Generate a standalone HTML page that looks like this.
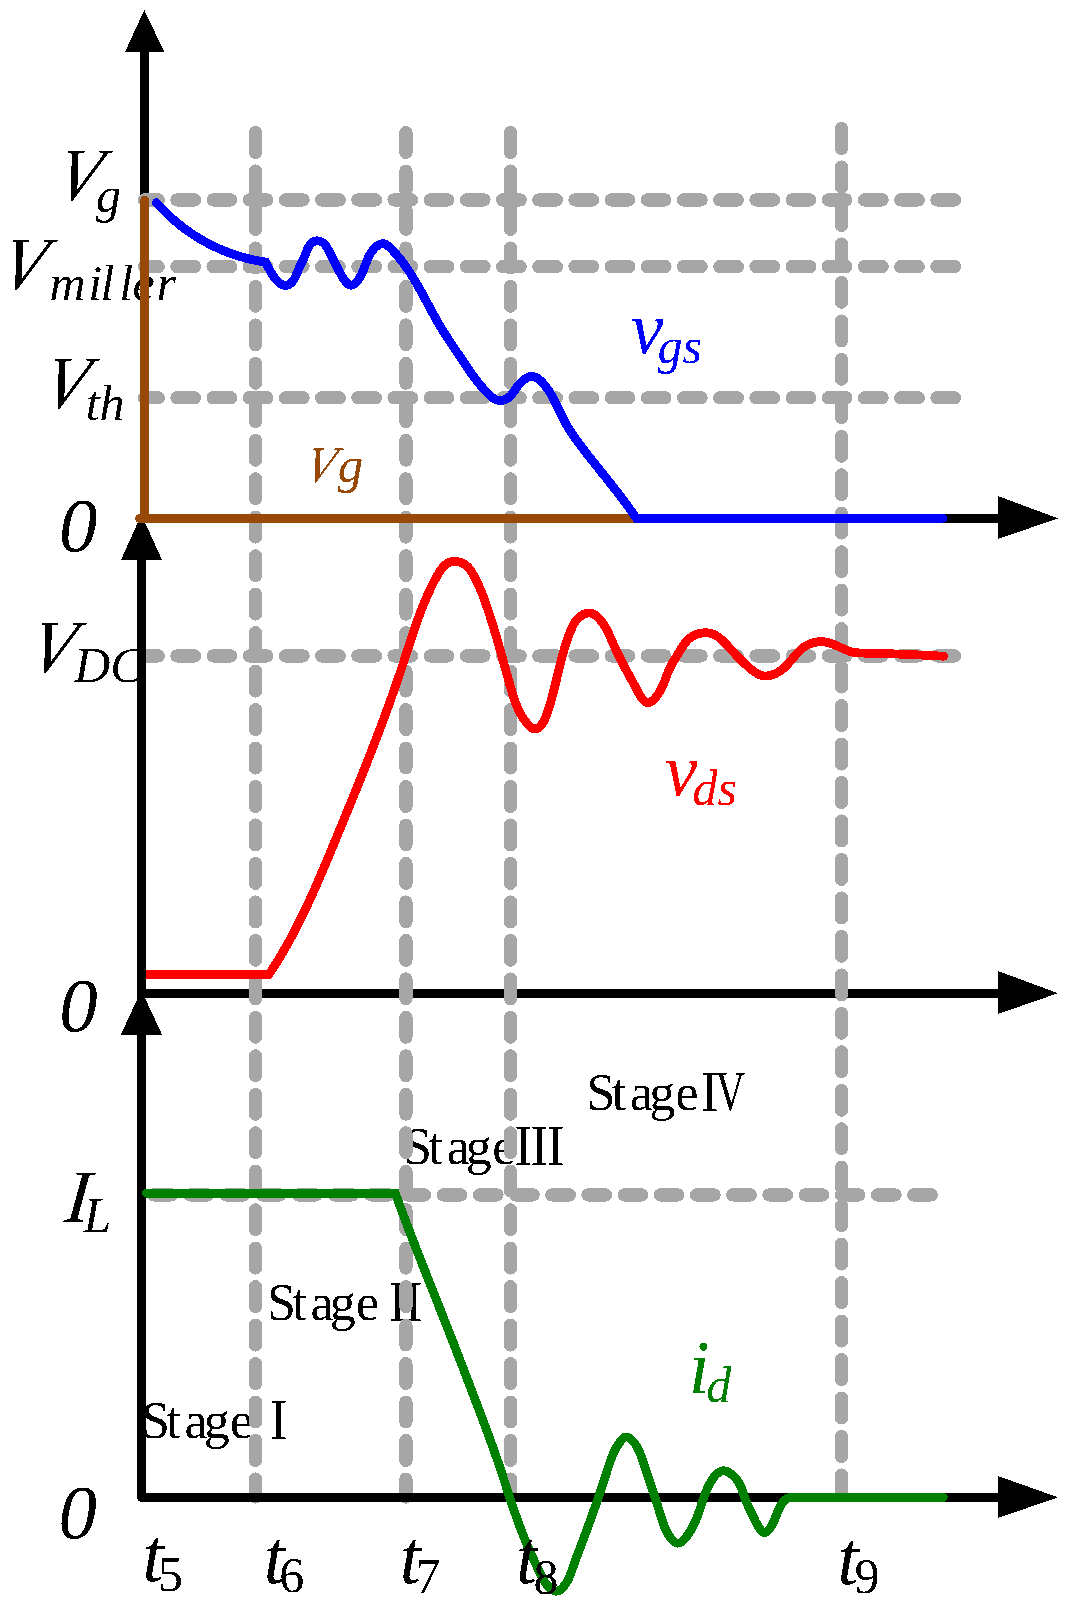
<!DOCTYPE html>
<html><head><meta charset="utf-8"><style>
html,body{margin:0;padding:0;background:#fff;}
svg{display:block;}
text{font-family:"Liberation Serif", serif;}
</style></head><body>
<svg width="1083" height="1612" viewBox="0 0 1083 1612" shape-rendering="crispEdges">
<defs><filter id="bin" x="0" y="0" width="1083" height="1612" filterUnits="userSpaceOnUse" color-interpolation-filters="sRGB"><feComponentTransfer><feFuncA type="discrete" tableValues="0 1"/></feComponentTransfer></filter></defs>
<rect width="1083" height="1612" fill="#fff"/>
<g id="tx_under" filter="url(#bin)">
<text x="0" y="0" font-size="75.5" fill="#000" style="font-style:italic" transform="translate(52.9,199.8) skewX(-13.2) scale(0.916,1)">V</text>
<text x="96" y="211.5" font-size="50" fill="#000" style="font-style:italic">g</text>
<text x="0" y="0" font-size="75.5" fill="#000" style="font-style:italic" transform="translate(-2.5,289.4) skewX(-13.2) scale(0.916,1)">V</text>
<text x="49.4 88.17 100.62 119.37 132.6 156.4" y="299.7" font-size="50" fill="#000" style="font-style:italic">miller</text>
<text x="0" y="0" font-size="75.5" fill="#000" style="font-style:italic" transform="translate(40.1,407.5) skewX(-13.2) scale(0.916,1)">V</text>
<text x="85.7" y="419.6" font-size="50" fill="#000" style="font-style:italic">th</text>
<text x="59.0" y="551.2" font-size="77" fill="#000" style="font-style:italic">0</text>
<text x="0" y="0" font-size="75.5" fill="#000" style="font-style:italic" transform="translate(26.5,671.8) skewX(-13.2) scale(0.916,1)">V</text>
<text x="74.2" y="682.1" font-size="50" fill="#000" style="font-style:italic">DC</text>
<text x="59.2" y="1031.0" font-size="77" fill="#000" style="font-style:italic">0</text>
<text x="0" y="0" font-size="75.5" fill="#000" style="font-style:italic" transform="translate(63.4,1221.6) skewX(-5.5)">I</text>
<text x="83.4" y="1231.8" font-size="50" fill="#000" style="font-style:italic">L</text>
<text x="58.6" y="1537.5" font-size="77" fill="#000" style="font-style:italic">0</text>
<text x="586.46 611.72 630.1 649.23 675.54" y="1110.2" font-size="52" fill="#000">Stage</text>
<text x="403.06 428.32 446.7 465.83 492.14" y="1164.2" font-size="52" fill="#000">Stage</text>
<text x="266.96 292.22 310.6 329.73 356.04" y="1320.2" font-size="52" fill="#000">Stage</text>
<text x="140.96 166.22 184.6 203.73 230.04" y="1438.2" font-size="52" fill="#000">Stage</text>
<text x="0" y="0" font-size="57.7" fill="#000" transform="translate(700.9,1111) scale(0.92,1)">I</text>
<text x="0" y="0" font-size="57.7" fill="#000" transform="translate(715.6,1111) scale(0.71,1)">V</text>
<text x="0" y="0" font-size="57.7" fill="#000" letter-spacing="-1.74" transform="translate(514.5,1165) scale(0.92,1)">III</text>
<text x="0" y="0" font-size="57.7" fill="#000" letter-spacing="-1.74" transform="translate(388.7,1321) scale(0.92,1)">II</text>
<text x="0" y="0" font-size="57.7" fill="#000" transform="translate(269.8,1439) scale(0.92,1)">I</text>
</g>
<g id="gfx1">
<line x1="137" y1="993.4" x2="1000" y2="993.4" stroke="#000" stroke-width="9"/>
<line x1="144.5" y1="50" x2="144.5" y2="523" stroke="#000" stroke-width="9"/>
<g stroke="#a6a6a6" stroke-width="13.3" stroke-linecap="round" fill="none">
<line x1="144.5" y1="199.9" x2="956" y2="199.9" stroke-dasharray="17.5 18.69" stroke-dashoffset="3.74"/>
<line x1="144.5" y1="266.6" x2="956" y2="266.6" stroke-dasharray="17.5 18.69" stroke-dashoffset="3.74"/>
<line x1="144.5" y1="397.8" x2="956" y2="397.8" stroke-dasharray="17.5 18.69" stroke-dashoffset="3.74"/>
<line x1="144.5" y1="655.9" x2="956" y2="655.9" stroke-dasharray="17.5 18.69" stroke-dashoffset="3.74"/>
<line x1="144.5" y1="1194.9" x2="940" y2="1194.9" stroke-dasharray="17.5 18.69" stroke-dashoffset="26.94"/>
<line x1="255.5" y1="132.65" x2="255.5" y2="1497" stroke-dasharray="19.7 18.77" stroke-dashoffset="0.00"/>
<line x1="405.9" y1="132.65" x2="405.9" y2="1497" stroke-dasharray="19.7 18.77" stroke-dashoffset="0.00"/>
<line x1="510.5" y1="132.65" x2="510.5" y2="1490" stroke-dasharray="19.7 18.77" stroke-dashoffset="0.00"/>
<line x1="841.5" y1="128.65" x2="841.5" y2="1493" stroke-dasharray="19.7 18.77" stroke-dashoffset="0.00"/>
</g>
<path d="M145,974.6 L268.80,974.50 L269.36,973.67 L269.92,972.83 L270.48,971.99 L271.03,971.15 L271.59,970.32 L272.14,969.48 L272.69,968.63 L273.23,967.79 L273.78,966.95 L274.32,966.10 L274.86,965.26 L275.39,964.41 L275.93,963.56 L276.46,962.71 L276.99,961.86 L277.52,961.01 L278.05,960.16 L278.57,959.30 L279.09,958.45 L279.61,957.59 L280.13,956.74 L280.64,955.88 L281.16,955.02 L281.67,954.16 L282.18,953.30 L282.69,952.44 L283.19,951.58 L283.69,950.71 L284.20,949.85 L284.70,948.99 L285.19,948.12 L285.69,947.25 L286.18,946.38 L286.67,945.51 L287.16,944.64 L287.65,943.77 L288.14,942.90 L288.62,942.03 L289.11,941.15 L289.59,940.28 L290.07,939.41 L290.54,938.53 L291.02,937.65 L291.49,936.77 L291.97,935.89 L292.44,935.02 L292.91,934.13 L293.37,933.25 L293.84,932.37 L294.30,931.49 L294.77,930.60 L295.23,929.72 L295.69,928.84 L296.14,927.95 L296.60,927.06 L297.05,926.17 L297.51,925.29 L297.96,924.40 L298.41,923.51 L298.86,922.62 L299.31,921.73 L299.75,920.83 L300.20,919.94 L300.64,919.05 L301.08,918.15 L301.52,917.26 L301.96,916.36 L302.40,915.47 L302.83,914.57 L303.27,913.67 L303.70,912.78 L304.14,911.88 L304.57,910.98 L305.00,910.08 L305.43,909.18 L305.85,908.28 L306.28,907.38 L306.70,906.47 L307.13,905.57 L307.55,904.67 L307.97,903.76 L308.39,902.86 L308.81,901.95 L309.23,901.05 L309.65,900.14 L310.07,899.24 L310.48,898.33 L310.89,897.42 L311.31,896.51 L311.72,895.60 L312.13,894.70 L312.54,893.79 L312.95,892.88 L313.36,891.97 L313.77,891.05 L314.17,890.14 L314.58,889.23 L314.99,888.32 L315.39,887.41 L315.79,886.49 L316.20,885.58 L316.60,884.66 L317.00,883.75 L317.40,882.84 L317.80,881.92 L318.20,881.01 L318.59,880.09 L318.99,879.17 L319.39,878.26 L319.79,877.34 L320.18,876.42 L320.58,875.50 L320.97,874.59 L321.36,873.67 L321.76,872.75 L322.15,871.83 L322.54,870.91 L322.93,869.99 L323.32,869.07 L323.71,868.15 L324.10,867.23 L324.49,866.31 L324.88,865.39 L325.27,864.47 L325.66,863.55 L326.04,862.63 L326.43,861.71 L326.82,860.79 L327.21,859.86 L327.59,858.94 L327.98,858.02 L328.36,857.10 L328.75,856.17 L329.13,855.25 L329.52,854.33 L329.90,853.40 L330.29,852.48 L330.67,851.56 L331.05,850.63 L331.44,849.71 L331.82,848.79 L332.20,847.86 L332.59,846.94 L332.97,846.02 L333.35,845.09 L333.74,844.17 L334.12,843.24 L334.50,842.32 L334.89,841.40 L335.27,840.47 L335.65,839.55 L336.03,838.62 L336.42,837.70 L336.80,836.77 L337.18,835.85 L337.56,834.92 L337.95,834.00 L338.33,833.07 L338.71,832.15 L339.09,831.23 L339.47,830.30 L339.86,829.38 L340.24,828.45 L340.62,827.53 L341.00,826.60 L341.38,825.68 L341.76,824.75 L342.15,823.83 L342.53,822.90 L342.91,821.98 L343.29,821.05 L343.67,820.12 L344.05,819.20 L344.43,818.27 L344.81,817.35 L345.19,816.42 L345.57,815.50 L345.95,814.57 L346.33,813.65 L346.71,812.72 L347.09,811.79 L347.47,810.87 L347.85,809.94 L348.23,809.02 L348.61,808.09 L348.99,807.16 L349.37,806.24 L349.75,805.31 L350.13,804.38 L350.51,803.46 L350.88,802.53 L351.26,801.60 L351.64,800.68 L352.02,799.75 L352.40,798.82 L352.77,797.90 L353.15,796.97 L353.53,796.04 L353.90,795.11 L354.28,794.19 L354.66,793.26 L355.03,792.33 L355.41,791.41 L355.78,790.48 L356.16,789.55 L356.53,788.62 L356.91,787.69 L357.28,786.77 L357.66,785.84 L358.03,784.91 L358.41,783.98 L358.78,783.05 L359.15,782.12 L359.53,781.20 L359.90,780.27 L360.27,779.34 L360.65,778.41 L361.02,777.48 L361.39,776.55 L361.76,775.62 L362.13,774.69 L362.50,773.76 L362.87,772.83 L363.24,771.91 L363.61,770.98 L363.98,770.05 L364.35,769.12 L364.72,768.19 L365.09,767.26 L365.46,766.33 L365.83,765.40 L366.20,764.47 L366.56,763.53 L366.93,762.60 L367.30,761.67 L367.66,760.74 L368.03,759.81 L368.40,758.88 L368.76,757.95 L369.13,757.02 L369.49,756.09 L369.86,755.16 L370.22,754.22 L370.58,753.29 L370.95,752.36 L371.31,751.43 L371.67,750.50 L372.04,749.56 L372.40,748.63 L372.76,747.70 L373.12,746.77 L373.48,745.83 L373.84,744.90 L374.20,743.97 L374.56,743.04 L374.92,742.10 L375.28,741.17 L375.64,740.24 L376.00,739.30 L376.35,738.37 L376.71,737.43 L377.07,736.50 L377.42,735.57 L377.78,734.63 L378.13,733.70 L378.49,732.76 L378.84,731.83 L379.20,730.89 L379.55,729.96 L379.90,729.02 L380.26,728.09 L380.61,727.15 L380.96,726.22 L381.31,725.28 L381.66,724.35 L382.01,723.41 L382.36,722.47 L382.71,721.54 L383.06,720.60 L383.41,719.66 L383.76,718.73 L384.10,717.79 L384.45,716.85 L384.80,715.92 L385.14,714.98 L385.49,714.04 L385.83,713.10 L386.18,712.17 L386.52,711.23 L386.86,710.29 L387.21,709.35 L387.55,708.41 L387.89,707.48 L388.23,706.54 L388.57,705.60 L388.91,704.66 L389.25,703.72 L389.59,702.78 L389.93,701.84 L390.27,700.90 L390.60,699.96 L390.94,699.02 L391.28,698.08 L391.61,697.14 L391.95,696.20 L392.28,695.26 L392.62,694.32 L392.95,693.38 L393.28,692.44 L393.61,691.50 L393.94,690.55 L394.28,689.61 L394.61,688.67 L394.94,687.73 L395.26,686.79 L395.59,685.84 L395.92,684.90 L396.25,683.96 L396.57,683.02 L396.90,682.07 L397.23,681.13 L397.55,680.19 L397.87,679.24 L398.20,678.30 L398.52,677.35 L398.84,676.41 L399.16,675.47 L399.48,674.52 L399.80,673.58 L400.12,672.63 L400.44,671.69 L400.76,670.74 L401.08,669.80 L401.39,668.85 L401.71,667.90 L402.02,666.96 L402.34,666.01 L402.65,665.06 L402.97,664.12 L403.28,663.17 L403.59,662.22 L403.90,661.28 L404.21,660.33 L404.52,659.38 L404.83,658.43 L405.14,657.49 L405.45,656.54 L405.76,655.59 L406.06,654.64 L406.37,653.69 L406.68,652.74 L406.98,651.79 L407.29,650.85 L407.60,649.90 L407.90,648.95 L408.21,648.00 L408.52,647.05 L408.83,646.10 L409.13,645.15 L409.44,644.21 L409.75,643.26 L410.06,642.31 L410.37,641.36 L410.68,640.41 L410.99,639.47 L411.30,638.52 L411.61,637.57 L411.92,636.62 L412.24,635.68 L412.55,634.73 L412.87,633.78 L413.18,632.84 L413.50,631.89 L413.82,630.94 L414.14,630.00 L414.46,629.05 L414.78,628.11 L415.11,627.16 L415.43,626.22 L415.76,625.28 L416.09,624.33 L416.42,623.39 L416.75,622.45 L417.08,621.51 L417.42,620.56 L417.76,619.62 L418.10,618.68 L418.44,617.74 L418.78,616.80 L419.13,615.86 L419.48,614.93 L419.83,613.99 L420.18,613.05 L420.53,612.11 L420.89,611.18 L421.25,610.24 L421.61,609.31 L421.98,608.37 L422.35,607.44 L422.72,606.51 L423.09,605.57 L423.47,604.64 L423.85,603.71 L424.23,602.78 L424.61,601.85 L425.00,600.93 L425.39,600.00 L425.79,599.07 L426.19,598.15 L426.59,597.22 L426.99,596.30 L427.40,595.37 L427.81,594.45 L428.23,593.53 L428.65,592.61 L429.07,591.69 L429.50,590.77 L429.93,589.86 L430.36,588.94 L430.80,588.02 L431.24,587.11 L431.69,586.20 L432.14,585.28 L432.59,584.37 L433.05,583.46 L433.52,582.55 L433.98,581.64 L434.46,580.74 L434.93,579.83 L435.41,578.93 L435.90,578.02 L436.39,577.12 L436.88,576.22 L437.39,575.33 L437.89,574.44 L438.41,573.56 L438.94,572.69 L439.47,571.84 L440.02,571.00 L440.58,570.18 L441.15,569.39 L441.74,568.61 L442.34,567.87 L442.96,567.15 L443.59,566.46 L444.25,565.80 L444.92,565.18 L445.61,564.60 L446.33,564.06 L447.06,563.56 L447.82,563.10 L448.61,562.70 L449.42,562.34 L450.25,562.04 L451.11,561.78 L452.01,561.59 L452.93,561.46 L453.88,561.38 L454.86,561.37 L455.87,561.43 L456.90,561.55 L457.94,561.73 L458.99,561.97 L460.04,562.27 L461.08,562.62 L462.09,563.03 L463.09,563.50 L464.04,564.01 L464.96,564.57 L465.82,565.18 L466.63,565.84 L467.38,566.54 L468.09,567.27 L468.76,568.04 L469.38,568.83 L469.98,569.64 L470.55,570.48 L471.10,571.32 L471.64,572.18 L472.17,573.04 L472.68,573.90 L473.19,574.77 L473.69,575.64 L474.18,576.51 L474.67,577.39 L475.14,578.27 L475.61,579.16 L476.06,580.05 L476.52,580.94 L476.96,581.84 L477.40,582.74 L477.83,583.64 L478.25,584.54 L478.67,585.45 L479.08,586.36 L479.48,587.28 L479.88,588.19 L480.27,589.11 L480.66,590.03 L481.04,590.95 L481.42,591.87 L481.79,592.80 L482.16,593.73 L482.52,594.66 L482.88,595.59 L483.23,596.52 L483.59,597.46 L483.93,598.39 L484.28,599.33 L484.62,600.27 L484.96,601.21 L485.29,602.15 L485.63,603.09 L485.96,604.03 L486.29,604.98 L486.62,605.92 L486.94,606.86 L487.26,607.81 L487.59,608.75 L487.91,609.70 L488.22,610.64 L488.54,611.59 L488.85,612.54 L489.17,613.48 L489.48,614.43 L489.79,615.38 L490.09,616.33 L490.40,617.28 L490.70,618.23 L491.01,619.18 L491.31,620.13 L491.61,621.08 L491.91,622.04 L492.20,622.99 L492.50,623.94 L492.79,624.90 L493.09,625.85 L493.38,626.80 L493.67,627.76 L493.96,628.71 L494.25,629.67 L494.54,630.63 L494.82,631.58 L495.11,632.54 L495.39,633.50 L495.67,634.45 L495.96,635.41 L496.24,636.37 L496.52,637.33 L496.80,638.29 L497.07,639.25 L497.35,640.20 L497.63,641.16 L497.90,642.12 L498.18,643.08 L498.45,644.05 L498.73,645.01 L499.00,645.97 L499.27,646.93 L499.55,647.89 L499.82,648.85 L500.09,649.81 L500.36,650.78 L500.63,651.74 L500.90,652.70 L501.17,653.66 L501.44,654.63 L501.71,655.59 L501.98,656.55 L502.25,657.52 L502.51,658.48 L502.78,659.44 L503.05,660.41 L503.32,661.37 L503.58,662.34 L503.85,663.30 L504.12,664.26 L504.39,665.23 L504.66,666.19 L504.92,667.16 L505.19,668.12 L505.46,669.09 L505.73,670.05 L506.00,671.02 L506.27,671.98 L506.53,672.95 L506.80,673.91 L507.07,674.88 L507.34,675.84 L507.61,676.81 L507.88,677.77 L508.16,678.73 L508.43,679.70 L508.70,680.66 L508.97,681.63 L509.25,682.59 L509.52,683.56 L509.80,684.52 L510.07,685.49 L510.35,686.45 L510.63,687.41 L510.90,688.38 L511.18,689.34 L511.46,690.30 L511.75,691.27 L512.03,692.23 L512.32,693.19 L512.62,694.14 L512.91,695.10 L513.21,696.06 L513.52,697.01 L513.83,697.96 L514.15,698.91 L514.47,699.85 L514.80,700.79 L515.14,701.73 L515.49,702.67 L515.84,703.60 L516.20,704.53 L516.57,705.46 L516.95,706.38 L517.35,707.29 L517.75,708.20 L518.16,709.11 L518.58,710.01 L519.02,710.91 L519.46,711.80 L519.92,712.68 L520.39,713.56 L520.88,714.44 L521.38,715.30 L521.90,716.16 L522.42,717.02 L522.97,717.86 L523.53,718.70 L524.11,719.54 L524.70,720.36 L525.31,721.18 L525.94,721.99 L526.59,722.79 L527.25,723.58 L527.93,724.36 L528.64,725.14 L529.36,725.89 L530.09,726.60 L530.84,727.25 L531.61,727.83 L532.38,728.32 L533.16,728.71 L533.95,728.97 L534.75,729.09 L535.54,729.05 L536.34,728.87 L537.13,728.55 L537.91,728.12 L538.67,727.58 L539.41,726.96 L540.13,726.26 L540.82,725.51 L541.47,724.71 L542.09,723.89 L542.67,723.05 L543.21,722.19 L543.72,721.31 L544.20,720.42 L544.66,719.51 L545.09,718.59 L545.50,717.65 L545.88,716.71 L546.25,715.76 L546.61,714.80 L546.95,713.84 L547.29,712.87 L547.61,711.90 L547.94,710.93 L548.25,709.97 L548.56,709.00 L548.87,708.03 L549.17,707.06 L549.47,706.09 L549.77,705.12 L550.06,704.15 L550.34,703.18 L550.63,702.21 L550.90,701.24 L551.18,700.27 L551.45,699.30 L551.72,698.33 L551.99,697.36 L552.25,696.39 L552.51,695.42 L552.76,694.45 L553.02,693.48 L553.27,692.51 L553.52,691.54 L553.77,690.57 L554.01,689.60 L554.25,688.63 L554.50,687.66 L554.74,686.69 L554.97,685.72 L555.21,684.75 L555.45,683.78 L555.68,682.81 L555.92,681.84 L556.15,680.87 L556.38,679.91 L556.61,678.94 L556.84,677.97 L557.07,677.00 L557.30,676.03 L557.54,675.07 L557.77,674.10 L558.00,673.13 L558.23,672.16 L558.46,671.20 L558.69,670.23 L558.93,669.27 L559.16,668.30 L559.40,667.34 L559.64,666.37 L559.87,665.41 L560.11,664.44 L560.36,663.48 L560.60,662.52 L560.84,661.55 L561.09,660.59 L561.34,659.63 L561.59,658.67 L561.85,657.71 L562.10,656.75 L562.36,655.79 L562.62,654.83 L562.89,653.87 L563.16,652.92 L563.43,651.96 L563.71,651.00 L563.98,650.05 L564.27,649.09 L564.55,648.14 L564.84,647.18 L565.14,646.23 L565.44,645.28 L565.74,644.33 L566.05,643.37 L566.36,642.42 L566.67,641.47 L567.00,640.53 L567.32,639.58 L567.65,638.63 L567.99,637.68 L568.33,636.74 L568.68,635.79 L569.04,634.85 L569.40,633.91 L569.76,632.97 L570.13,632.02 L570.51,631.08 L570.90,630.15 L571.29,629.21 L571.70,628.28 L572.12,627.35 L572.55,626.44 L573.00,625.53 L573.47,624.64 L573.97,623.76 L574.48,622.90 L575.03,622.05 L575.60,621.23 L576.20,620.42 L576.84,619.64 L577.51,618.89 L578.22,618.16 L578.97,617.46 L579.77,616.80 L580.60,616.16 L581.47,615.57 L582.38,615.02 L583.31,614.52 L584.26,614.09 L585.22,613.72 L586.18,613.43 L587.15,613.21 L588.11,613.08 L589.06,613.04 L589.99,613.10 L590.90,613.25 L591.79,613.49 L592.66,613.80 L593.52,614.19 L594.36,614.64 L595.18,615.16 L595.97,615.73 L596.75,616.36 L597.51,617.02 L598.25,617.73 L598.97,618.47 L599.67,619.24 L600.34,620.03 L601.00,620.84 L601.63,621.66 L602.24,622.48 L602.83,623.31 L603.41,624.15 L603.96,624.99 L604.50,625.84 L605.02,626.69 L605.52,627.55 L606.01,628.42 L606.49,629.29 L606.95,630.16 L607.41,631.04 L607.85,631.92 L608.29,632.81 L608.71,633.70 L609.13,634.59 L609.55,635.49 L609.96,636.39 L610.36,637.29 L610.77,638.20 L611.17,639.10 L611.57,640.01 L611.97,640.92 L612.37,641.83 L612.77,642.75 L613.18,643.66 L613.59,644.58 L614.01,645.49 L614.43,646.41 L614.85,647.32 L615.27,648.24 L615.70,649.16 L616.14,650.07 L616.57,650.99 L617.01,651.90 L617.45,652.82 L617.89,653.73 L618.34,654.64 L618.79,655.56 L619.24,656.47 L619.69,657.37 L620.14,658.28 L620.60,659.18 L621.05,660.09 L621.51,660.99 L621.97,661.88 L622.43,662.78 L622.89,663.67 L623.35,664.56 L623.81,665.44 L624.27,666.32 L624.73,667.20 L625.19,668.08 L625.65,668.95 L626.11,669.81 L626.57,670.68 L627.03,671.54 L627.49,672.39 L627.94,673.24 L628.40,674.08 L628.85,674.92 L629.31,675.76 L629.76,676.59 L630.21,677.42 L630.67,678.25 L631.12,679.09 L631.58,679.93 L632.05,680.78 L632.51,681.63 L632.98,682.50 L633.46,683.38 L633.94,684.27 L634.42,685.17 L634.92,686.09 L635.42,687.03 L635.93,687.99 L636.45,688.98 L636.98,689.98 L637.52,691.00 L638.07,692.03 L638.63,693.05 L639.20,694.06 L639.78,695.06 L640.37,696.03 L640.97,696.96 L641.58,697.85 L642.20,698.70 L642.83,699.48 L643.47,700.20 L644.12,700.84 L644.78,701.41 L645.45,701.88 L646.13,702.25 L646.82,702.51 L647.53,702.66 L648.24,702.69 L648.96,702.60 L649.69,702.39 L650.43,702.08 L651.17,701.67 L651.90,701.17 L652.64,700.59 L653.37,699.94 L654.10,699.22 L654.81,698.44 L655.51,697.61 L656.20,696.75 L656.88,695.85 L657.53,694.92 L658.17,693.97 L658.78,693.02 L659.37,692.07 L659.93,691.12 L660.46,690.18 L660.96,689.26 L661.43,688.36 L661.88,687.46 L662.31,686.57 L662.73,685.68 L663.13,684.78 L663.51,683.88 L663.89,682.97 L664.26,682.06 L664.62,681.13 L664.98,680.21 L665.33,679.28 L665.68,678.35 L666.03,677.42 L666.38,676.49 L666.73,675.56 L667.08,674.63 L667.44,673.70 L667.81,672.78 L668.18,671.86 L668.56,670.94 L668.95,670.03 L669.35,669.13 L669.77,668.24 L670.20,667.35 L670.64,666.48 L671.10,665.61 L671.57,664.74 L672.05,663.89 L672.54,663.03 L673.03,662.18 L673.54,661.34 L674.05,660.49 L674.57,659.65 L675.09,658.80 L675.61,657.95 L676.14,657.10 L676.67,656.25 L677.19,655.39 L677.72,654.53 L678.25,653.66 L678.77,652.78 L679.30,651.90 L679.82,651.01 L680.34,650.13 L680.87,649.24 L681.41,648.36 L681.95,647.48 L682.50,646.61 L683.06,645.76 L683.64,644.91 L684.23,644.08 L684.84,643.27 L685.46,642.47 L686.11,641.70 L686.78,640.95 L687.47,640.23 L688.19,639.54 L688.94,638.88 L689.71,638.25 L690.51,637.65 L691.33,637.09 L692.17,636.55 L693.03,636.06 L693.91,635.59 L694.80,635.16 L695.71,634.76 L696.63,634.40 L697.57,634.07 L698.51,633.79 L699.47,633.53 L700.43,633.32 L701.40,633.14 L702.37,633.00 L703.35,632.90 L704.32,632.84 L705.30,632.82 L706.27,632.83 L707.25,632.89 L708.21,632.99 L709.17,633.13 L710.12,633.32 L711.07,633.54 L712.00,633.81 L712.92,634.13 L713.82,634.48 L714.71,634.88 L715.58,635.33 L716.44,635.81 L717.28,636.34 L718.11,636.90 L718.92,637.49 L719.72,638.12 L720.51,638.77 L721.29,639.44 L722.06,640.14 L722.81,640.85 L723.56,641.58 L724.30,642.32 L725.03,643.08 L725.75,643.84 L726.47,644.60 L727.18,645.37 L727.88,646.13 L728.58,646.90 L729.28,647.65 L729.97,648.40 L730.66,649.15 L731.35,649.89 L732.04,650.63 L732.72,651.36 L733.40,652.09 L734.08,652.81 L734.76,653.53 L735.44,654.25 L736.12,654.97 L736.81,655.68 L737.49,656.38 L738.17,657.09 L738.86,657.79 L739.55,658.49 L740.24,659.18 L740.93,659.88 L741.63,660.57 L742.33,661.26 L743.03,661.95 L743.74,662.63 L744.46,663.31 L745.18,664.00 L745.91,664.68 L746.64,665.36 L747.38,666.04 L748.13,666.72 L748.88,667.39 L749.65,668.06 L750.42,668.73 L751.20,669.38 L751.98,670.02 L752.78,670.64 L753.59,671.25 L754.40,671.83 L755.22,672.39 L756.06,672.91 L756.90,673.41 L757.76,673.87 L758.62,674.29 L759.49,674.68 L760.38,675.02 L761.28,675.31 L762.18,675.56 L763.10,675.75 L764.03,675.89 L764.97,675.97 L765.93,675.99 L766.89,675.96 L767.86,675.88 L768.83,675.74 L769.81,675.56 L770.78,675.32 L771.75,675.05 L772.73,674.73 L773.69,674.37 L774.65,673.98 L775.59,673.55 L776.53,673.08 L777.45,672.58 L778.36,672.06 L779.24,671.51 L780.11,670.93 L780.96,670.33 L781.78,669.71 L782.58,669.07 L783.37,668.41 L784.13,667.74 L784.88,667.05 L785.61,666.34 L786.33,665.62 L787.04,664.90 L787.73,664.16 L788.41,663.41 L789.08,662.66 L789.75,661.90 L790.41,661.13 L791.06,660.36 L791.71,659.59 L792.35,658.82 L792.99,658.06 L793.63,657.29 L794.28,656.53 L794.92,655.77 L795.57,655.02 L796.22,654.28 L796.88,653.54 L797.54,652.82 L798.21,652.11 L798.89,651.41 L799.58,650.73 L800.29,650.06 L801.00,649.41 L801.73,648.78 L802.48,648.17 L803.24,647.59 L804.03,647.02 L804.83,646.48 L805.65,645.96 L806.49,645.48 L807.35,645.01 L808.23,644.58 L809.13,644.18 L810.04,643.80 L810.97,643.45 L811.91,643.13 L812.86,642.85 L813.82,642.59 L814.79,642.36 L815.77,642.17 L816.75,642.01 L817.74,641.88 L818.74,641.78 L819.73,641.72 L820.73,641.69 L821.72,641.70 L822.72,641.74 L823.71,641.82 L824.70,641.93 L825.68,642.08 L826.66,642.26 L827.63,642.47 L828.60,642.72 L829.56,642.99 L830.52,643.28 L831.48,643.60 L832.43,643.94 L833.37,644.30 L834.32,644.67 L835.26,645.06 L836.19,645.46 L837.13,645.88 L838.05,646.30 L838.98,646.72 L839.90,647.15 L840.83,647.59 L841.75,648.02 L842.67,648.44 L843.59,648.86 L844.51,649.27 L845.43,649.67 L846.35,650.06 L847.28,650.43 L848.21,650.77 L849.14,651.10 L850.08,651.40 L851.03,651.68 L851.98,651.92 L852.94,652.14 L853.90,652.32 L854.87,652.48 L855.85,652.62 L856.83,652.73 L857.81,652.82 L858.80,652.90 L859.79,652.96 L860.79,653.01 L861.78,653.05 L862.78,653.08 L863.78,653.10 L864.78,653.12 L865.78,653.13 L866.78,653.15 L867.78,653.17 L868.78,653.19 L869.78,653.21 L870.78,653.23 L871.78,653.25 L872.78,653.27 L873.78,653.29 L874.78,653.32 L875.78,653.34 L876.78,653.37 L877.78,653.39 L878.78,653.42 L879.78,653.45 L880.78,653.47 L881.78,653.50 L882.78,653.53 L883.78,653.56 L884.78,653.59 L885.78,653.62 L886.78,653.65 L887.78,653.69 L888.78,653.72 L889.78,653.75 L890.77,653.79 L891.77,653.82 L892.77,653.86 L893.77,653.89 L894.77,653.93 L895.77,653.96 L896.77,654.00 L897.77,654.04 L898.77,654.08 L899.76,654.12 L900.76,654.16 L901.76,654.20 L902.76,654.24 L903.76,654.28 L904.76,654.32 L905.76,654.36 L906.75,654.40 L907.75,654.44 L908.75,654.49 L909.75,654.53 L910.75,654.58 L911.75,654.62 L912.74,654.66 L913.74,654.71 L914.74,654.75 L915.74,654.80 L916.74,654.85 L917.74,654.89 L918.73,654.94 L919.73,654.99 L920.73,655.04 L921.73,655.08 L922.73,655.13 L923.73,655.18 L924.72,655.23 L925.72,655.28 L926.72,655.33 L927.72,655.38 L928.72,655.43 L929.72,655.48 L930.72,655.53 L931.71,655.58 L932.71,655.63 L933.71,655.68 L934.71,655.73 L935.71,655.78 L936.71,655.83 L937.71,655.89 L938.71,655.94 L939.70,655.99 L940.70,656.04 L941.70,656.09 L942.70,656.15 L943.70,656.20" stroke="#ff0000" stroke-width="8.8" stroke-linecap="round" stroke-linejoin="miter" fill="none"/>
<g stroke="#000" stroke-width="9" fill="none">
<line x1="144.5" y1="518.5" x2="1000" y2="518.5"/>
<line x1="141.5" y1="558" x2="141.5" y2="997.9"/>
<polyline points="141.5,1033 141.5,1497.4 1000,1497.4" stroke-linejoin="round"/>
</g>
<g fill="#000">
<polygon points="144.3,10 125,52 164.3,52"/>
<polygon points="1058,518.4 998,496 998,539"/>
<polygon points="141.4,514.5 121,560 162,560"/>
<polygon points="1058,993.2 998,971 998,1014"/>
<polygon points="141.3,990 121,1034.6 162,1034.6"/>
<polygon points="1058,1497.3 998,1476 998,1518"/>
</g>
<g stroke="#984807" stroke-width="8.7" stroke-linecap="round" fill="none">
<line x1="144.6" y1="200" x2="144.6" y2="518.6"/>
<line x1="139.5" y1="518.6" x2="633.5" y2="518.6"/>
</g>
<g fill="none" stroke-width="8.8" stroke-linecap="round" stroke-linejoin="miter">
<path d="M156.40,202.60 L157.06,203.35 L157.72,204.09 L158.38,204.84 L159.05,205.57 L159.73,206.31 L160.40,207.04 L161.09,207.77 L161.77,208.49 L162.46,209.21 L163.16,209.92 L163.86,210.63 L164.56,211.34 L165.27,212.05 L165.98,212.75 L166.69,213.44 L167.41,214.13 L168.13,214.82 L168.86,215.50 L169.59,216.18 L170.33,216.86 L171.06,217.53 L171.81,218.20 L172.55,218.86 L173.30,219.52 L174.06,220.18 L174.81,220.83 L175.57,221.48 L176.34,222.12 L177.11,222.76 L177.88,223.39 L178.65,224.02 L179.43,224.65 L180.21,225.27 L181.00,225.89 L181.79,226.50 L182.58,227.11 L183.38,227.71 L184.18,228.31 L184.98,228.91 L185.79,229.50 L186.60,230.09 L187.41,230.67 L188.22,231.25 L189.04,231.82 L189.87,232.39 L190.69,232.96 L191.52,233.52 L192.35,234.07 L193.19,234.62 L194.02,235.17 L194.86,235.71 L195.71,236.25 L196.56,236.78 L197.40,237.31 L198.26,237.83 L199.11,238.35 L199.97,238.86 L200.83,239.37 L201.70,239.88 L202.56,240.38 L203.43,240.87 L204.30,241.36 L205.18,241.85 L206.06,242.33 L206.94,242.80 L207.82,243.27 L208.71,243.74 L209.59,244.20 L210.48,244.65 L211.38,245.10 L212.27,245.55 L213.17,245.99 L214.07,246.43 L214.97,246.86 L215.88,247.28 L216.78,247.70 L217.69,248.12 L218.61,248.53 L219.52,248.93 L220.44,249.33 L221.35,249.73 L222.28,250.12 L223.20,250.50 L224.12,250.88 L225.05,251.26 L225.98,251.63 L226.91,251.99 L227.84,252.35 L228.78,252.70 L229.72,253.05 L230.65,253.39 L231.59,253.73 L232.54,254.06 L233.48,254.39 L234.43,254.71 L235.38,255.02 L236.33,255.33 L237.28,255.64 L238.23,255.94 L239.19,256.23 L240.14,256.52 L241.10,256.80 L242.06,257.08 L243.02,257.35 L243.98,257.61 L244.95,257.87 L245.91,258.13 L246.88,258.38 L247.85,258.62 L248.82,258.86 L249.79,259.09 L250.77,259.31 L251.74,259.53 L252.71,259.75 L253.69,259.96 L254.67,260.16 L255.65,260.36 L256.63,260.55 L257.61,260.73 L258.59,260.91 L259.58,261.08 L260.56,261.25 L261.55,261.41 L262.53,261.57 L263.52,261.72 L264.51,261.86 L265.50,262.00 L265.50,262.00 L265.97,262.85 L266.44,263.71 L266.89,264.58 L267.35,265.46 L267.81,266.34 L268.26,267.22 L268.72,268.11 L269.19,268.99 L269.66,269.88 L270.13,270.77 L270.62,271.65 L271.12,272.53 L271.64,273.41 L272.17,274.27 L272.71,275.13 L273.28,275.99 L273.87,276.83 L274.48,277.66 L275.12,278.47 L275.78,279.28 L276.48,280.06 L277.20,280.84 L277.96,281.59 L278.74,282.31 L279.55,282.98 L280.38,283.60 L281.23,284.15 L282.09,284.62 L282.96,285.00 L283.84,285.27 L284.73,285.42 L285.61,285.44 L286.49,285.33 L287.36,285.11 L288.21,284.78 L289.05,284.35 L289.85,283.83 L290.63,283.24 L291.37,282.58 L292.07,281.87 L292.72,281.10 L293.33,280.30 L293.90,279.46 L294.43,278.58 L294.93,277.68 L295.41,276.75 L295.86,275.81 L296.29,274.85 L296.70,273.88 L297.10,272.90 L297.49,271.92 L297.87,270.95 L298.26,269.98 L298.64,269.03 L299.04,268.09 L299.44,267.18 L299.85,266.29 L300.27,265.41 L300.69,264.54 L301.12,263.69 L301.55,262.84 L301.98,261.98 L302.40,261.13 L302.82,260.26 L303.23,259.39 L303.64,258.49 L304.04,257.59 L304.44,256.67 L304.83,255.73 L305.23,254.78 L305.63,253.81 L306.03,252.82 L306.43,251.82 L306.85,250.80 L307.27,249.79 L307.72,248.78 L308.18,247.79 L308.67,246.84 L309.20,245.92 L309.75,245.05 L310.35,244.25 L310.99,243.51 L311.68,242.86 L312.42,242.30 L313.20,241.83 L314.03,241.45 L314.90,241.17 L315.79,240.99 L316.69,240.89 L317.61,240.88 L318.52,240.97 L319.43,241.14 L320.33,241.40 L321.20,241.75 L322.04,242.19 L322.85,242.71 L323.61,243.32 L324.33,244.00 L325.01,244.75 L325.66,245.55 L326.27,246.41 L326.86,247.30 L327.42,248.23 L327.96,249.17 L328.47,250.14 L328.98,251.10 L329.47,252.07 L329.95,253.02 L330.42,253.95 L330.88,254.86 L331.34,255.77 L331.80,256.65 L332.25,257.53 L332.69,258.40 L333.13,259.25 L333.57,260.11 L334.01,260.96 L334.45,261.80 L334.88,262.65 L335.32,263.49 L335.76,264.34 L336.20,265.20 L336.64,266.06 L337.08,266.93 L337.53,267.81 L337.99,268.71 L338.44,269.62 L338.91,270.54 L339.38,271.47 L339.86,272.40 L340.35,273.34 L340.86,274.28 L341.38,275.22 L341.91,276.15 L342.47,277.07 L343.04,277.98 L343.63,278.88 L344.24,279.75 L344.88,280.61 L345.54,281.44 L346.22,282.23 L346.93,282.97 L347.65,283.63 L348.40,284.20 L349.15,284.66 L349.92,284.98 L350.69,285.16 L351.47,285.17 L352.25,285.01 L353.02,284.72 L353.79,284.30 L354.55,283.78 L355.28,283.18 L355.99,282.51 L356.68,281.79 L357.33,281.04 L357.95,280.28 L358.53,279.49 L359.09,278.68 L359.62,277.85 L360.12,277.01 L360.60,276.15 L361.07,275.27 L361.51,274.38 L361.93,273.48 L362.34,272.57 L362.74,271.64 L363.12,270.71 L363.50,269.77 L363.87,268.82 L364.23,267.86 L364.59,266.90 L364.95,265.94 L365.32,264.97 L365.68,264.01 L366.05,263.04 L366.43,262.07 L366.82,261.10 L367.21,260.14 L367.63,259.18 L368.05,258.22 L368.50,257.27 L368.95,256.34 L369.43,255.41 L369.93,254.50 L370.44,253.60 L370.98,252.73 L371.54,251.87 L372.12,251.04 L372.72,250.24 L373.35,249.46 L374.00,248.71 L374.68,248.00 L375.38,247.32 L376.11,246.68 L376.87,246.08 L377.66,245.52 L378.48,245.01 L379.32,244.56 L380.17,244.19 L381.03,243.92 L381.90,243.75 L382.76,243.70 L383.62,243.78 L384.48,243.99 L385.32,244.31 L386.16,244.73 L386.98,245.23 L387.80,245.81 L388.60,246.46 L389.39,247.15 L390.18,247.88 L390.94,248.63 L391.70,249.40 L392.44,250.17 L393.17,250.94 L393.89,251.71 L394.59,252.47 L395.29,253.24 L395.97,254.01 L396.64,254.78 L397.30,255.55 L397.96,256.32 L398.60,257.10 L399.24,257.88 L399.87,258.66 L400.49,259.44 L401.11,260.23 L401.72,261.02 L402.33,261.81 L402.93,262.61 L403.53,263.41 L404.12,264.21 L404.70,265.02 L405.28,265.83 L405.86,266.65 L406.43,267.46 L407.00,268.28 L407.56,269.11 L408.11,269.93 L408.67,270.76 L409.21,271.59 L409.76,272.42 L410.30,273.26 L410.83,274.10 L411.37,274.94 L411.89,275.78 L412.42,276.63 L412.94,277.47 L413.46,278.32 L413.97,279.17 L414.49,280.03 L414.99,280.88 L415.50,281.74 L416.00,282.60 L416.50,283.46 L417.00,284.32 L417.50,285.19 L417.99,286.05 L418.48,286.92 L418.97,287.79 L419.46,288.66 L419.94,289.53 L420.43,290.40 L420.91,291.27 L421.39,292.15 L421.87,293.02 L422.35,293.90 L422.83,294.77 L423.30,295.65 L423.78,296.53 L424.25,297.41 L424.72,298.29 L425.20,299.17 L425.67,300.05 L426.14,300.93 L426.61,301.81 L427.09,302.69 L427.56,303.57 L428.03,304.45 L428.50,305.33 L428.97,306.21 L429.45,307.10 L429.92,307.98 L430.40,308.86 L430.87,309.74 L431.35,310.62 L431.82,311.49 L432.30,312.37 L432.78,313.25 L433.26,314.13 L433.75,315.01 L434.23,315.88 L434.72,316.76 L435.20,317.63 L435.69,318.50 L436.19,319.37 L436.68,320.24 L437.18,321.11 L437.68,321.98 L438.18,322.85 L438.68,323.71 L439.19,324.58 L439.70,325.44 L440.21,326.30 L440.73,327.16 L441.25,328.01 L441.77,328.87 L442.29,329.72 L442.82,330.57 L443.35,331.43 L443.88,332.27 L444.41,333.12 L444.95,333.97 L445.49,334.81 L446.03,335.66 L446.57,336.50 L447.11,337.34 L447.66,338.18 L448.21,339.02 L448.75,339.86 L449.30,340.70 L449.85,341.53 L450.41,342.37 L450.96,343.20 L451.51,344.03 L452.07,344.86 L452.62,345.69 L453.18,346.53 L453.74,347.35 L454.29,348.18 L454.85,349.01 L455.41,349.84 L455.97,350.66 L456.53,351.49 L457.08,352.32 L457.64,353.14 L458.20,353.96 L458.75,354.79 L459.31,355.61 L459.87,356.43 L460.42,357.26 L460.97,358.08 L461.53,358.90 L462.08,359.72 L462.63,360.54 L463.18,361.36 L463.73,362.18 L464.28,363.00 L464.83,363.82 L465.38,364.64 L465.94,365.46 L466.49,366.28 L467.04,367.09 L467.60,367.91 L468.15,368.73 L468.71,369.54 L469.27,370.35 L469.84,371.17 L470.40,371.98 L470.97,372.79 L471.54,373.60 L472.12,374.40 L472.69,375.21 L473.28,376.02 L473.86,376.82 L474.45,377.62 L475.05,378.42 L475.65,379.22 L476.25,380.02 L476.86,380.82 L477.48,381.61 L478.10,382.40 L478.73,383.20 L479.37,383.98 L480.01,384.77 L480.65,385.56 L481.31,386.34 L481.97,387.12 L482.64,387.90 L483.32,388.68 L484.00,389.45 L484.70,390.23 L485.40,391.00 L486.11,391.76 L486.83,392.53 L487.56,393.29 L488.30,394.04 L489.05,394.77 L489.81,395.48 L490.58,396.16 L491.36,396.81 L492.15,397.43 L492.96,398.01 L493.78,398.54 L494.61,399.02 L495.46,399.44 L496.31,399.81 L497.19,400.10 L498.08,400.33 L498.98,400.48 L499.90,400.56 L500.83,400.54 L501.78,400.45 L502.72,400.28 L503.66,400.04 L504.60,399.73 L505.52,399.35 L506.42,398.90 L507.29,398.40 L508.13,397.84 L508.93,397.22 L509.69,396.55 L510.42,395.85 L511.11,395.10 L511.77,394.33 L512.41,393.54 L513.02,392.74 L513.60,391.92 L514.17,391.10 L514.73,390.28 L515.30,389.45 L515.86,388.62 L516.45,387.79 L517.05,386.95 L517.69,386.12 L518.35,385.29 L519.04,384.46 L519.75,383.65 L520.49,382.86 L521.25,382.10 L522.02,381.36 L522.82,380.65 L523.62,379.98 L524.44,379.36 L525.28,378.78 L526.12,378.26 L526.96,377.79 L527.82,377.39 L528.67,377.06 L529.53,376.79 L530.39,376.61 L531.24,376.50 L532.09,376.48 L532.93,376.55 L533.77,376.71 L534.60,376.94 L535.42,377.24 L536.24,377.62 L537.04,378.05 L537.84,378.55 L538.63,379.11 L539.40,379.71 L540.17,380.36 L540.92,381.05 L541.66,381.78 L542.39,382.54 L543.10,383.32 L543.81,384.13 L544.49,384.96 L545.16,385.80 L545.82,386.65 L546.46,387.51 L547.08,388.37 L547.69,389.23 L548.28,390.09 L548.86,390.96 L549.43,391.83 L549.98,392.71 L550.53,393.58 L551.06,394.46 L551.57,395.34 L552.08,396.23 L552.58,397.11 L553.07,398.00 L553.55,398.89 L554.02,399.78 L554.49,400.67 L554.94,401.56 L555.40,402.45 L555.84,403.35 L556.28,404.24 L556.72,405.13 L557.15,406.03 L557.58,406.92 L558.01,407.82 L558.43,408.71 L558.86,409.61 L559.28,410.50 L559.70,411.39 L560.12,412.28 L560.55,413.17 L560.97,414.06 L561.40,414.95 L561.83,415.83 L562.26,416.71 L562.70,417.60 L563.14,418.47 L563.59,419.35 L564.04,420.23 L564.50,421.10 L564.97,421.97 L565.44,422.83 L565.92,423.69 L566.41,424.55 L566.90,425.41 L567.40,426.26 L567.91,427.11 L568.43,427.96 L568.95,428.81 L569.48,429.65 L570.01,430.49 L570.55,431.33 L571.09,432.16 L571.64,433.00 L572.20,433.83 L572.75,434.65 L573.32,435.48 L573.89,436.30 L574.46,437.13 L575.03,437.95 L575.62,438.76 L576.20,439.58 L576.79,440.39 L577.38,441.21 L577.97,442.02 L578.57,442.83 L579.17,443.63 L579.77,444.44 L580.37,445.24 L580.98,446.05 L581.58,446.85 L582.19,447.65 L582.80,448.45 L583.41,449.25 L584.03,450.04 L584.64,450.84 L585.25,451.63 L585.87,452.43 L586.48,453.22 L587.10,454.01 L587.71,454.80 L588.33,455.59 L588.95,456.38 L589.57,457.17 L590.19,457.96 L590.81,458.75 L591.43,459.53 L592.05,460.32 L592.67,461.10 L593.29,461.89 L593.91,462.67 L594.53,463.45 L595.15,464.24 L595.78,465.02 L596.40,465.80 L597.02,466.58 L597.64,467.36 L598.27,468.14 L598.89,468.93 L599.51,469.71 L600.13,470.49 L600.76,471.27 L601.38,472.05 L602.00,472.83 L602.63,473.61 L603.25,474.38 L603.87,475.16 L604.49,475.94 L605.11,476.72 L605.74,477.50 L606.36,478.28 L606.98,479.06 L607.60,479.84 L608.22,480.62 L608.84,481.41 L609.46,482.19 L610.08,482.97 L610.69,483.75 L611.31,484.53 L611.93,485.31 L612.54,486.10 L613.16,486.88 L613.77,487.67 L614.39,488.45 L615.00,489.24 L615.61,490.02 L616.23,490.81 L616.84,491.60 L617.45,492.38 L618.06,493.17 L618.66,493.96 L619.27,494.75 L619.88,495.54 L620.48,496.34 L621.09,497.13 L621.69,497.92 L622.29,498.72 L622.89,499.52 L623.49,500.31 L624.09,501.11 L624.68,501.91 L625.28,502.71 L625.87,503.51 L626.47,504.32 L627.06,505.12 L627.65,505.93 L628.24,506.74 L628.82,507.54 L629.41,508.35 L629.99,509.17 L630.57,509.98 L631.15,510.79 L631.73,511.61 L632.31,512.43 L632.89,513.25 L633.46,514.07 L634.03,514.89 L634.60,515.72 L635.17,516.54 L635.74,517.37 L636.30,518.20 L943,518.2" stroke="#0000ff"/>
<path d="M146.4,1193.2 L395.50,1193.70 L395.84,1194.64 L396.18,1195.58 L396.52,1196.52 L396.86,1197.46 L397.21,1198.40 L397.55,1199.34 L397.89,1200.28 L398.24,1201.21 L398.58,1202.15 L398.93,1203.09 L399.27,1204.03 L399.62,1204.97 L399.96,1205.90 L400.31,1206.84 L400.66,1207.78 L401.00,1208.72 L401.35,1209.65 L401.70,1210.59 L402.05,1211.53 L402.40,1212.46 L402.75,1213.40 L403.10,1214.34 L403.45,1215.27 L403.80,1216.21 L404.15,1217.14 L404.50,1218.08 L404.86,1219.01 L405.21,1219.95 L405.56,1220.88 L405.91,1221.82 L406.27,1222.75 L406.62,1223.69 L406.98,1224.62 L407.33,1225.56 L407.69,1226.49 L408.04,1227.43 L408.40,1228.36 L408.75,1229.29 L409.11,1230.23 L409.47,1231.16 L409.83,1232.09 L410.18,1233.03 L410.54,1233.96 L410.90,1234.89 L411.26,1235.83 L411.62,1236.76 L411.98,1237.69 L412.33,1238.62 L412.69,1239.56 L413.05,1240.49 L413.41,1241.42 L413.78,1242.35 L414.14,1243.29 L414.50,1244.22 L414.86,1245.15 L415.22,1246.08 L415.58,1247.01 L415.94,1247.94 L416.31,1248.88 L416.67,1249.81 L417.03,1250.74 L417.39,1251.67 L417.76,1252.60 L418.12,1253.53 L418.48,1254.46 L418.85,1255.39 L419.21,1256.32 L419.58,1257.25 L419.94,1258.18 L420.31,1259.12 L420.67,1260.05 L421.04,1260.98 L421.40,1261.91 L421.77,1262.84 L422.13,1263.77 L422.50,1264.70 L422.86,1265.63 L423.23,1266.56 L423.60,1267.49 L423.96,1268.42 L424.33,1269.35 L424.69,1270.28 L425.06,1271.21 L425.43,1272.14 L425.79,1273.07 L426.16,1273.99 L426.53,1274.92 L426.90,1275.85 L427.26,1276.78 L427.63,1277.71 L428.00,1278.64 L428.37,1279.57 L428.73,1280.50 L429.10,1281.43 L429.47,1282.36 L429.84,1283.29 L430.21,1284.22 L430.57,1285.15 L430.94,1286.08 L431.31,1287.01 L431.68,1287.93 L432.05,1288.86 L432.41,1289.79 L432.78,1290.72 L433.15,1291.65 L433.52,1292.58 L433.89,1293.51 L434.25,1294.44 L434.62,1295.37 L434.99,1296.30 L435.36,1297.23 L435.73,1298.16 L436.10,1299.08 L436.46,1300.01 L436.83,1300.94 L437.20,1301.87 L437.57,1302.80 L437.94,1303.73 L438.30,1304.66 L438.67,1305.59 L439.04,1306.52 L439.41,1307.45 L439.78,1308.38 L440.14,1309.31 L440.51,1310.24 L440.88,1311.16 L441.25,1312.09 L441.61,1313.02 L441.98,1313.95 L442.35,1314.88 L442.72,1315.81 L443.08,1316.74 L443.45,1317.67 L443.82,1318.60 L444.18,1319.53 L444.55,1320.46 L444.92,1321.39 L445.28,1322.32 L445.65,1323.25 L446.01,1324.18 L446.38,1325.11 L446.75,1326.04 L447.11,1326.97 L447.48,1327.90 L447.84,1328.83 L448.21,1329.76 L448.57,1330.69 L448.94,1331.62 L449.30,1332.55 L449.66,1333.49 L450.03,1334.42 L450.39,1335.35 L450.76,1336.28 L451.12,1337.21 L451.48,1338.14 L451.85,1339.07 L452.21,1340.00 L452.57,1340.93 L452.93,1341.87 L453.30,1342.80 L453.66,1343.73 L454.02,1344.66 L454.38,1345.59 L454.74,1346.52 L455.10,1347.45 L455.47,1348.39 L455.83,1349.32 L456.19,1350.25 L456.55,1351.18 L456.91,1352.11 L457.27,1353.05 L457.63,1353.98 L457.99,1354.91 L458.35,1355.84 L458.71,1356.78 L459.07,1357.71 L459.43,1358.64 L459.79,1359.57 L460.15,1360.51 L460.51,1361.44 L460.87,1362.37 L461.23,1363.30 L461.59,1364.24 L461.94,1365.17 L462.30,1366.10 L462.66,1367.04 L463.02,1367.97 L463.38,1368.90 L463.74,1369.83 L464.09,1370.77 L464.45,1371.70 L464.81,1372.63 L465.17,1373.57 L465.53,1374.50 L465.88,1375.43 L466.24,1376.37 L466.60,1377.30 L466.95,1378.23 L467.31,1379.17 L467.67,1380.10 L468.02,1381.03 L468.38,1381.97 L468.74,1382.90 L469.09,1383.83 L469.45,1384.77 L469.81,1385.70 L470.16,1386.63 L470.52,1387.57 L470.88,1388.50 L471.23,1389.44 L471.59,1390.37 L471.94,1391.30 L472.30,1392.24 L472.66,1393.17 L473.01,1394.10 L473.37,1395.04 L473.72,1395.97 L474.08,1396.91 L474.43,1397.84 L474.79,1398.77 L475.14,1399.71 L475.50,1400.64 L475.85,1401.57 L476.21,1402.51 L476.56,1403.44 L476.92,1404.38 L477.27,1405.31 L477.63,1406.24 L477.98,1407.18 L478.34,1408.11 L478.69,1409.05 L479.05,1409.98 L479.40,1410.91 L479.75,1411.85 L480.11,1412.78 L480.46,1413.72 L480.82,1414.65 L481.17,1415.59 L481.52,1416.52 L481.87,1417.45 L482.23,1418.39 L482.58,1419.32 L482.93,1420.26 L483.28,1421.19 L483.63,1422.13 L483.98,1423.07 L484.33,1424.00 L484.68,1424.94 L485.03,1425.87 L485.38,1426.81 L485.73,1427.74 L486.08,1428.68 L486.43,1429.62 L486.77,1430.55 L487.12,1431.49 L487.47,1432.43 L487.81,1433.36 L488.16,1434.30 L488.50,1435.24 L488.85,1436.18 L489.19,1437.11 L489.54,1438.05 L489.88,1438.99 L490.22,1439.93 L490.56,1440.87 L490.90,1441.81 L491.24,1442.75 L491.58,1443.68 L491.92,1444.62 L492.26,1445.56 L492.60,1446.50 L492.93,1447.45 L493.27,1448.39 L493.60,1449.33 L493.94,1450.27 L494.27,1451.21 L494.61,1452.15 L494.94,1453.09 L495.27,1454.04 L495.60,1454.98 L495.93,1455.92 L496.26,1456.87 L496.59,1457.81 L496.91,1458.76 L497.24,1459.70 L497.56,1460.64 L497.89,1461.59 L498.21,1462.54 L498.53,1463.48 L498.85,1464.43 L499.18,1465.37 L499.49,1466.32 L499.81,1467.27 L500.13,1468.22 L500.45,1469.17 L500.76,1470.11 L501.08,1471.06 L501.39,1472.01 L501.71,1472.96 L502.02,1473.91 L502.34,1474.86 L502.65,1475.81 L502.96,1476.76 L503.27,1477.71 L503.58,1478.66 L503.89,1479.61 L504.21,1480.56 L504.52,1481.51 L504.83,1482.46 L505.14,1483.41 L505.45,1484.36 L505.76,1485.31 L506.07,1486.26 L506.38,1487.21 L506.69,1488.17 L507.00,1489.12 L507.31,1490.07 L507.62,1491.02 L507.93,1491.97 L508.24,1492.92 L508.55,1493.87 L508.86,1494.82 L509.18,1495.77 L509.49,1496.72 L509.80,1497.67 L510.11,1498.62 L510.43,1499.57 L510.74,1500.52 L511.06,1501.47 L511.37,1502.41 L511.69,1503.36 L512.01,1504.31 L512.33,1505.26 L512.65,1506.21 L512.97,1507.15 L513.29,1508.10 L513.61,1509.05 L513.93,1509.99 L514.26,1510.94 L514.58,1511.88 L514.91,1512.83 L515.24,1513.77 L515.57,1514.72 L515.90,1515.66 L516.23,1516.60 L516.56,1517.54 L516.89,1518.49 L517.23,1519.43 L517.57,1520.37 L517.91,1521.31 L518.25,1522.25 L518.59,1523.19 L518.93,1524.12 L519.28,1525.06 L519.62,1526.00 L519.97,1526.94 L520.32,1527.87 L520.68,1528.81 L521.03,1529.74 L521.39,1530.67 L521.75,1531.61 L522.11,1532.54 L522.47,1533.47 L522.83,1534.40 L523.20,1535.33 L523.57,1536.26 L523.94,1537.19 L524.31,1538.11 L524.69,1539.04 L525.07,1539.97 L525.45,1540.89 L525.83,1541.81 L526.22,1542.74 L526.61,1543.66 L527.00,1544.58 L527.39,1545.50 L527.78,1546.42 L528.18,1547.34 L528.58,1548.25 L528.98,1549.17 L529.38,1550.09 L529.79,1551.00 L530.19,1551.91 L530.60,1552.83 L531.01,1553.74 L531.42,1554.65 L531.84,1555.56 L532.25,1556.47 L532.67,1557.38 L533.09,1558.29 L533.50,1559.20 L533.93,1560.11 L534.35,1561.01 L534.77,1561.92 L535.19,1562.82 L535.62,1563.73 L536.05,1564.63 L536.47,1565.54 L536.90,1566.44 L537.33,1567.34 L537.76,1568.24 L538.19,1569.14 L538.63,1570.04 L539.06,1570.94 L539.49,1571.84 L539.93,1572.74 L540.36,1573.64 L540.79,1574.54 L541.23,1575.43 L541.67,1576.33 L542.12,1577.22 L542.58,1578.10 L543.05,1578.98 L543.53,1579.85 L544.03,1580.71 L544.55,1581.56 L545.10,1582.40 L545.66,1583.22 L546.25,1584.03 L546.88,1584.82 L547.53,1585.60 L548.22,1586.35 L548.94,1587.09 L549.70,1587.81 L550.50,1588.50 L551.35,1589.15 L552.21,1589.75 L553.10,1590.27 L554.01,1590.69 L554.91,1590.98 L555.82,1591.14 L556.71,1591.14 L557.59,1590.99 L558.45,1590.71 L559.29,1590.32 L560.12,1589.82 L560.92,1589.23 L561.70,1588.56 L562.46,1587.82 L563.18,1587.04 L563.88,1586.22 L564.54,1585.37 L565.17,1584.52 L565.77,1583.65 L566.33,1582.78 L566.87,1581.90 L567.37,1581.02 L567.86,1580.13 L568.31,1579.23 L568.75,1578.33 L569.17,1577.42 L569.57,1576.51 L569.95,1575.60 L570.32,1574.68 L570.67,1573.76 L571.02,1572.83 L571.35,1571.90 L571.68,1570.97 L572.01,1570.04 L572.33,1569.11 L572.65,1568.17 L572.97,1567.24 L573.29,1566.30 L573.62,1565.37 L573.95,1564.44 L574.28,1563.50 L574.61,1562.57 L574.95,1561.63 L575.29,1560.70 L575.63,1559.76 L575.97,1558.83 L576.31,1557.89 L576.66,1556.96 L577.01,1556.02 L577.35,1555.09 L577.70,1554.15 L578.05,1553.21 L578.41,1552.28 L578.76,1551.34 L579.11,1550.41 L579.47,1549.47 L579.82,1548.54 L580.18,1547.60 L580.53,1546.66 L580.89,1545.73 L581.24,1544.79 L581.60,1543.85 L581.95,1542.92 L582.31,1541.98 L582.66,1541.04 L583.02,1540.10 L583.37,1539.17 L583.73,1538.23 L584.08,1537.29 L584.43,1536.35 L584.78,1535.41 L585.13,1534.48 L585.48,1533.54 L585.83,1532.60 L586.18,1531.66 L586.52,1530.72 L586.87,1529.78 L587.22,1528.84 L587.56,1527.90 L587.91,1526.96 L588.25,1526.02 L588.59,1525.08 L588.93,1524.14 L589.27,1523.20 L589.62,1522.26 L589.96,1521.32 L590.29,1520.38 L590.63,1519.44 L590.97,1518.49 L591.31,1517.55 L591.64,1516.61 L591.98,1515.67 L592.31,1514.73 L592.65,1513.78 L592.98,1512.84 L593.31,1511.90 L593.65,1510.96 L593.98,1510.01 L594.31,1509.07 L594.64,1508.13 L594.97,1507.18 L595.30,1506.24 L595.62,1505.29 L595.95,1504.35 L596.28,1503.41 L596.60,1502.46 L596.93,1501.52 L597.25,1500.57 L597.58,1499.63 L597.90,1498.68 L598.22,1497.74 L598.54,1496.79 L598.87,1495.84 L599.19,1494.90 L599.51,1493.95 L599.82,1493.01 L600.14,1492.06 L600.46,1491.11 L600.78,1490.17 L601.09,1489.22 L601.41,1488.27 L601.72,1487.33 L602.04,1486.38 L602.35,1485.43 L602.67,1484.48 L602.98,1483.53 L603.29,1482.59 L603.60,1481.64 L603.91,1480.69 L604.22,1479.74 L604.53,1478.79 L604.84,1477.84 L605.15,1476.89 L605.45,1475.95 L605.76,1475.00 L606.07,1474.05 L606.37,1473.10 L606.68,1472.15 L606.98,1471.20 L607.28,1470.25 L607.59,1469.30 L607.89,1468.35 L608.20,1467.40 L608.51,1466.45 L608.82,1465.50 L609.14,1464.56 L609.46,1463.61 L609.78,1462.67 L610.11,1461.72 L610.45,1460.78 L610.79,1459.85 L611.14,1458.91 L611.50,1457.98 L611.87,1457.05 L612.25,1456.12 L612.64,1455.19 L613.03,1454.27 L613.44,1453.35 L613.87,1452.44 L614.30,1451.53 L614.75,1450.62 L615.21,1449.72 L615.69,1448.82 L616.18,1447.93 L616.69,1447.04 L617.21,1446.16 L617.75,1445.28 L618.31,1444.41 L618.89,1443.54 L619.49,1442.68 L620.10,1441.82 L620.74,1440.97 L621.40,1440.15 L622.08,1439.37 L622.78,1438.66 L623.51,1438.04 L624.25,1437.53 L625.02,1437.16 L625.81,1436.95 L626.63,1436.93 L627.46,1437.09 L628.31,1437.41 L629.16,1437.88 L630.00,1438.46 L630.83,1439.13 L631.63,1439.87 L632.40,1440.65 L633.13,1441.45 L633.82,1442.26 L634.48,1443.08 L635.10,1443.92 L635.69,1444.78 L636.24,1445.64 L636.77,1446.51 L637.27,1447.40 L637.74,1448.29 L638.20,1449.19 L638.63,1450.10 L639.04,1451.01 L639.44,1451.93 L639.83,1452.86 L640.20,1453.79 L640.56,1454.72 L640.91,1455.65 L641.26,1456.59 L641.61,1457.52 L641.95,1458.46 L642.29,1459.39 L642.62,1460.33 L642.96,1461.27 L643.29,1462.20 L643.62,1463.14 L643.94,1464.08 L644.27,1465.02 L644.59,1465.95 L644.91,1466.89 L645.23,1467.83 L645.55,1468.77 L645.86,1469.71 L646.18,1470.65 L646.49,1471.60 L646.80,1472.54 L647.11,1473.48 L647.42,1474.42 L647.73,1475.37 L648.04,1476.31 L648.34,1477.26 L648.65,1478.21 L648.96,1479.15 L649.26,1480.10 L649.57,1481.05 L649.87,1482.00 L650.18,1482.95 L650.49,1483.90 L650.79,1484.85 L651.10,1485.81 L651.41,1486.76 L651.72,1487.72 L652.03,1488.67 L652.34,1489.63 L652.65,1490.59 L652.96,1491.55 L653.28,1492.51 L653.59,1493.47 L653.91,1494.43 L654.22,1495.39 L654.54,1496.35 L654.85,1497.32 L655.17,1498.28 L655.49,1499.24 L655.80,1500.20 L656.12,1501.16 L656.43,1502.12 L656.75,1503.08 L657.06,1504.04 L657.37,1505.00 L657.68,1505.95 L657.99,1506.91 L658.30,1507.86 L658.60,1508.81 L658.90,1509.75 L659.20,1510.70 L659.50,1511.64 L659.80,1512.58 L660.09,1513.52 L660.38,1514.45 L660.66,1515.38 L660.94,1516.31 L661.22,1517.23 L661.50,1518.16 L661.78,1519.08 L662.07,1520.00 L662.36,1520.91 L662.65,1521.83 L662.96,1522.75 L663.27,1523.67 L663.60,1524.59 L663.94,1525.52 L664.30,1526.44 L664.68,1527.38 L665.08,1528.31 L665.50,1529.25 L665.95,1530.20 L666.42,1531.16 L666.92,1532.12 L667.45,1533.08 L668.00,1534.05 L668.59,1535.02 L669.20,1535.97 L669.84,1536.89 L670.49,1537.78 L671.16,1538.64 L671.86,1539.44 L672.56,1540.19 L673.28,1540.87 L674.02,1541.48 L674.76,1542.00 L675.50,1542.43 L676.26,1542.77 L677.01,1543.00 L677.77,1543.11 L678.53,1543.09 L679.28,1542.96 L680.04,1542.71 L680.78,1542.36 L681.52,1541.91 L682.26,1541.37 L682.99,1540.76 L683.70,1540.08 L684.41,1539.34 L685.11,1538.54 L685.79,1537.71 L686.46,1536.84 L687.11,1535.94 L687.75,1535.03 L688.37,1534.11 L688.97,1533.19 L689.56,1532.28 L690.13,1531.37 L690.67,1530.45 L691.21,1529.55 L691.72,1528.64 L692.23,1527.73 L692.71,1526.83 L693.18,1525.92 L693.64,1525.02 L694.08,1524.12 L694.51,1523.22 L694.93,1522.31 L695.34,1521.41 L695.73,1520.51 L696.12,1519.60 L696.49,1518.70 L696.86,1517.79 L697.21,1516.88 L697.56,1515.97 L697.90,1515.06 L698.23,1514.15 L698.55,1513.23 L698.87,1512.32 L699.19,1511.40 L699.50,1510.48 L699.81,1509.56 L700.11,1508.64 L700.41,1507.72 L700.72,1506.80 L701.02,1505.87 L701.32,1504.95 L701.62,1504.02 L701.93,1503.10 L702.23,1502.17 L702.54,1501.24 L702.85,1500.31 L703.17,1499.38 L703.50,1498.44 L703.83,1497.51 L704.16,1496.58 L704.50,1495.64 L704.86,1494.71 L705.22,1493.77 L705.59,1492.83 L705.97,1491.89 L706.36,1490.95 L706.76,1490.01 L707.18,1489.07 L707.60,1488.13 L708.05,1487.19 L708.50,1486.25 L708.98,1485.30 L709.46,1484.36 L709.97,1483.41 L710.49,1482.47 L711.03,1481.53 L711.59,1480.60 L712.16,1479.69 L712.75,1478.80 L713.35,1477.93 L713.98,1477.08 L714.61,1476.28 L715.27,1475.50 L715.94,1474.78 L716.62,1474.10 L717.32,1473.47 L718.04,1472.89 L718.77,1472.38 L719.52,1471.93 L720.28,1471.55 L721.06,1471.25 L721.85,1471.03 L722.66,1470.89 L723.48,1470.84 L724.31,1470.88 L725.16,1471.01 L726.02,1471.23 L726.88,1471.53 L727.74,1471.90 L728.61,1472.34 L729.47,1472.85 L730.32,1473.42 L731.17,1474.04 L732.00,1474.71 L732.82,1475.43 L733.62,1476.19 L734.40,1476.98 L735.15,1477.81 L735.88,1478.65 L736.58,1479.52 L737.24,1480.40 L737.87,1481.29 L738.46,1482.19 L739.00,1483.08 L739.51,1483.98 L739.99,1484.88 L740.43,1485.78 L740.85,1486.68 L741.24,1487.58 L741.61,1488.48 L741.95,1489.39 L742.29,1490.29 L742.61,1491.20 L742.92,1492.11 L743.22,1493.02 L743.52,1493.93 L743.82,1494.85 L744.12,1495.77 L744.42,1496.69 L744.74,1497.61 L745.06,1498.53 L745.41,1499.46 L745.76,1500.39 L746.14,1501.32 L746.52,1502.25 L746.92,1503.19 L747.32,1504.12 L747.74,1505.05 L748.17,1505.98 L748.60,1506.91 L749.03,1507.84 L749.47,1508.77 L749.91,1509.69 L750.35,1510.60 L750.80,1511.52 L751.24,1512.42 L751.67,1513.32 L752.10,1514.22 L752.53,1515.10 L752.95,1515.98 L753.36,1516.85 L753.77,1517.72 L754.17,1518.59 L754.59,1519.46 L755.01,1520.35 L755.45,1521.26 L755.91,1522.19 L756.40,1523.15 L756.93,1524.14 L757.48,1525.16 L758.07,1526.19 L758.68,1527.20 L759.32,1528.18 L759.98,1529.11 L760.66,1529.96 L761.36,1530.72 L762.07,1531.37 L762.79,1531.89 L763.52,1532.25 L764.25,1532.45 L764.99,1532.45 L765.72,1532.28 L766.45,1531.94 L767.17,1531.46 L767.88,1530.85 L768.57,1530.13 L769.25,1529.32 L769.91,1528.44 L770.54,1527.51 L771.14,1526.55 L771.71,1525.57 L772.25,1524.59 L772.75,1523.63 L773.22,1522.70 L773.65,1521.78 L774.06,1520.88 L774.44,1519.99 L774.81,1519.12 L775.16,1518.25 L775.50,1517.38 L775.83,1516.51 L776.16,1515.64 L776.50,1514.77 L776.84,1513.88 L777.19,1512.99 L777.55,1512.08 L777.93,1511.15 L778.34,1510.20 L778.76,1509.24 L779.21,1508.28 L779.69,1507.32 L780.18,1506.36 L780.71,1505.43 L781.26,1504.51 L781.84,1503.62 L782.44,1502.77 L783.08,1501.95 L783.74,1501.18 L784.44,1500.47 L785.17,1499.82 L785.93,1499.23 L786.73,1498.72 L787.56,1498.28 L788.42,1497.93 L789.32,1497.66 L790.25,1497.46 L791.20,1497.32 L792.17,1497.23 L793.16,1497.18 L794.16,1497.16 L795.17,1497.16 L796.19,1497.18 L797.20,1497.21 L798.22,1497.23 L799.24,1497.25 L800.25,1497.27 L801.27,1497.29 L802.28,1497.31 L803.29,1497.33 L804.30,1497.35 L805.32,1497.36 L806.33,1497.38 L807.34,1497.39 L808.35,1497.41 L809.35,1497.42 L810.36,1497.43 L811.37,1497.44 L812.38,1497.45 L813.38,1497.46 L814.39,1497.47 L815.39,1497.48 L816.40,1497.49 L817.40,1497.49 L818.41,1497.50 L819.41,1497.51 L820.41,1497.51 L821.41,1497.51 L822.41,1497.52 L823.42,1497.52 L824.42,1497.52 L825.42,1497.53 L826.42,1497.53 L827.42,1497.53 L828.42,1497.53 L829.41,1497.53 L830.41,1497.53 L831.41,1497.53 L832.41,1497.53 L833.41,1497.52 L834.40,1497.52 L835.40,1497.52 L836.40,1497.52 L837.40,1497.51 L838.39,1497.51 L839.39,1497.51 L840.39,1497.50 L841.38,1497.50 L842.38,1497.50 L843.37,1497.49 L844.37,1497.49 L845.37,1497.48 L846.36,1497.48 L847.36,1497.47 L848.35,1497.47 L849.35,1497.47 L850.34,1497.46 L851.34,1497.46 L852.34,1497.45 L853.33,1497.45 L854.33,1497.44 L855.32,1497.44 L856.32,1497.43 L857.32,1497.43 L858.31,1497.42 L859.31,1497.42 L860.31,1497.42 L861.31,1497.41 L862.30,1497.41 L863.30,1497.41 L864.30,1497.40 L865.30,1497.40 L866.29,1497.40 L867.29,1497.39 L868.29,1497.39 L869.29,1497.39 L870.29,1497.39 L871.29,1497.39 L872.29,1497.38 L873.29,1497.38 L874.29,1497.38 L875.29,1497.38 L876.29,1497.38 L877.29,1497.38 L878.29,1497.38 L879.29,1497.38 L880.29,1497.38 L881.29,1497.38 L882.29,1497.38 L883.29,1497.38 L884.29,1497.38 L885.29,1497.38 L886.29,1497.38 L887.30,1497.38 L888.30,1497.38 L889.30,1497.38 L890.30,1497.38 L891.30,1497.38 L892.30,1497.38 L893.30,1497.38 L894.31,1497.38 L895.31,1497.38 L896.31,1497.39 L897.31,1497.39 L898.31,1497.39 L899.31,1497.39 L900.32,1497.39 L901.32,1497.39 L902.32,1497.39 L903.32,1497.39 L904.32,1497.40 L905.32,1497.40 L906.33,1497.40 L907.33,1497.40 L908.33,1497.40 L909.33,1497.40 L910.33,1497.40 L911.33,1497.40 L912.33,1497.41 L913.33,1497.41 L914.34,1497.41 L915.34,1497.41 L916.34,1497.41 L917.34,1497.41 L918.34,1497.41 L919.34,1497.41 L920.34,1497.41 L921.34,1497.41 L922.34,1497.41 L923.34,1497.42 L924.34,1497.42 L925.34,1497.42 L926.34,1497.42 L927.34,1497.42 L928.34,1497.42 L929.34,1497.42 L930.34,1497.42 L931.33,1497.42 L932.33,1497.42 L933.33,1497.41 L934.33,1497.41 L935.33,1497.41 L936.32,1497.41 L937.32,1497.41 L938.32,1497.41 L939.32,1497.41 L940.31,1497.41 L941.31,1497.40 L942.30,1497.40 L943.30,1497.40" stroke="#008000"/>
</g>
</g>
<g id="tx_over" filter="url(#bin)">
<text x="0" y="0" font-size="51" fill="#984807" style="font-style:italic" transform="translate(303.1,482.2) skewX(-13.2) scale(0.916,1)">V</text>
<text x="337.8" y="482" font-size="51" fill="#984807" style="font-style:italic">g</text>
<text x="630.7" y="353.3" font-size="73.5" fill="#0000ff" style="font-style:italic">v</text>
<text x="657.5" y="362.5" font-size="50" fill="#0000ff" style="font-style:italic">gs</text>
<text x="664.7" y="795.2" font-size="73.5" fill="#ff0000" style="font-style:italic">v</text>
<text x="692.4" y="805.3" font-size="50" fill="#ff0000" style="font-style:italic">ds</text>
<text x="688.7" y="1392.8" font-size="75.5" fill="#008000" style="font-style:italic">i</text>
<text x="706.3" y="1402.3" font-size="50" fill="#008000" style="font-style:italic">d</text>
<text x="142.5" y="1580.8" font-size="75.5" fill="#000" style="font-style:italic">t</text>
<text x="157.9" y="1591.3" font-size="50" fill="#000">5</text>
<text x="263.8" y="1582.5" font-size="75.5" fill="#000" style="font-style:italic">t</text>
<text x="279.2" y="1592.3" font-size="50" fill="#000">6</text>
<text x="399.7" y="1582.8" font-size="75.5" fill="#000" style="font-style:italic">t</text>
<text x="415.3" y="1592.8" font-size="50" fill="#000">7</text>
<text x="516" y="1583.3" font-size="75.5" fill="#000" style="font-style:italic">t</text>
<text x="533.5" y="1593.5" font-size="50" fill="#000">8</text>
<text x="837.6" y="1584.3" font-size="75.5" fill="#000" style="font-style:italic">t</text>
<text x="854.4" y="1593.4" font-size="50" fill="#000">9</text>
</g>
</svg>
</body></html>
